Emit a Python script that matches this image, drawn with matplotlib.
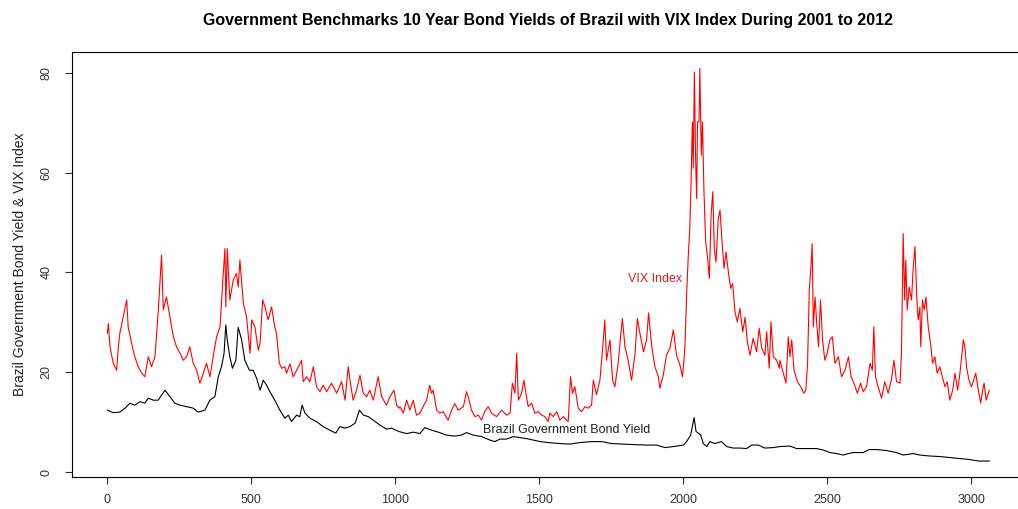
import matplotlib
matplotlib.use("Agg")
import matplotlib.pyplot as plt

plt.rcParams['font.family'] = ['Liberation Sans', 'DejaVu Sans']

vix_idx = [0, 3, 9, 20, 32, 38, 43, 55, 67, 72, 84, 95, 107, 119, 130, 142, 153, 165, 176, 188,
           194, 205, 217, 229, 240, 252, 263, 275, 286, 298, 310, 321, 333, 344, 356, 367, 379, 391, 400, 408,
           411, 416, 425, 437, 448, 454, 460, 472, 483, 493, 495, 501, 512, 524, 530, 539, 547, 558, 570, 581,
           587, 597, 605, 616, 622, 634, 645, 657, 674, 680, 692, 703, 715, 726, 738, 749, 761, 778, 796, 813,
           825, 836, 842, 853, 865, 877, 888, 900, 911, 923, 940, 952, 969, 981, 995, 1004, 1013,
           1016, 1027, 1039, 1050, 1062, 1073, 1085, 1096, 1108, 1119, 1125, 1131, 1143, 1154, 1166, 1183, 1195, 1206, 1218,
           1236, 1247, 1253, 1264, 1276, 1288, 1299, 1310, 1322, 1334, 1351, 1369, 1386, 1398, 1406, 1415, 1421, 1427, 1438,
           1446, 1455, 1461, 1473, 1484, 1496, 1508, 1519, 1530,
           1536, 1548, 1560, 1571, 1583, 1594, 1600, 1608, 1615, 1623, 1635, 1646, 1658, 1669, 1681, 1687, 1698, 1710, 1719,
           1727, 1733, 1745, 1754, 1762, 1773, 1788, 1797, 1808, 1820, 1832, 1840, 1849, 1861, 1872, 1879, 1890, 1901, 1913,
           1918, 1930, 1941, 1953, 1965, 1976, 1988, 1997, 2005, 2011, 2017, 2022, 2026, 2031, 2034, 2038, 2042, 2046, 2049,
           2054, 2057, 2062, 2066, 2071, 2077, 2083, 2090, 2096, 2102, 2107, 2113, 2121, 2127, 2134, 2141, 2148, 2156, 2164,
           2171, 2179, 2187, 2196, 2206, 2214, 2222, 2231, 2242, 2254, 2263, 2272, 2283, 2289, 2298, 2304, 2312, 2324, 2333,
           2335, 2347, 2356, 2364, 2370, 2376, 2384, 2396, 2407, 2418, 2425, 2431, 2437, 2442, 2447, 2451, 2457, 2462, 2469,
           2476, 2483, 2491, 2499, 2509, 2517, 2526, 2538, 2549, 2561, 2573, 2582, 2592, 2604, 2615, 2624, 2636, 2648, 2656,
           2661, 2667, 2676, 2688, 2699, 2711, 2722, 2731, 2740, 2752, 2757, 2763, 2768, 2772, 2777, 2784, 2792, 2798, 2804,
           2810, 2815, 2821, 2824, 2830, 2836, 2842, 2850, 2858, 2865, 2873, 2881, 2890, 2899, 2908, 2916, 2925, 2935, 2943,
           2952, 2960, 2966, 2972, 2977, 2983, 2991, 3000, 3008, 3015, 3024, 3032, 3039, 3044, 3051, 3055, 3062]
vix_val = [27.8, 29.8, 25.1, 21.8, 20.4, 25.1, 27.8, 31.1, 34.5, 29.1, 25.8, 23.1, 21.1, 19.8, 19.1, 23.1, 21.1, 23.1, 31.8, 43.5,
           32.5, 35.1, 31.1, 27.1, 25.1, 23.8, 22.4, 23.1, 25.1, 21.8, 20.4, 17.8, 19.8, 21.8, 19.1, 23.1, 27.1, 29.1, 37.8, 44.8,
           33.1, 44.8, 34.5, 38.5, 39.8, 37.1, 42.5, 33.8, 31.1, 25.1, 23.8, 30.5, 29.1, 24.4, 25.8, 34.5, 33.1, 30.5, 33.1, 29.1,
           27.8, 21.8, 20.8, 21.1, 19.8, 21.7, 19.1, 20.4, 22.4, 18.1, 19.1, 18.1, 21.1, 17.1, 16.1, 17.4, 16.1, 17.8, 15.8, 18.1,
           14.4, 21.1, 18.5, 14.4, 16.4, 19.4, 15.8, 15.1, 16.4, 14.4, 19.1, 15.1, 13.4, 15.1, 16.4, 13.4, 12.8,
           13.1, 11.8, 14.4, 12.4, 14.4, 11.4, 11.8, 13.1, 14.4, 17.4, 15.8, 16.4, 12.4, 11.8, 12.1, 10.4, 12.4, 13.7, 12.4,
           13.1, 16.1, 15.1, 12.4, 11.1, 11.4, 10.4, 12.1, 13.1, 11.8, 11.1, 12.4, 11.4, 11.8, 17.8, 15.8, 23.8, 14.4, 15.8,
           18.4, 15.1, 13.1, 13.8, 11.8, 12.1, 11.4, 11.1, 10.1,
           11.8, 11.1, 12.1, 10.4, 11.1, 10.4, 10.1, 19.1, 15.8, 17.1, 12.8, 12.1, 13.1, 12.8, 13.4, 18.4, 15.5, 18.4, 24.4,
           30.5, 22.4, 26.5, 18.4, 17.1, 21.7, 30.8, 25.1, 22.4, 18.4, 23.8, 30.8, 27.8, 24.1, 26.5, 31.9, 25.1, 21.1, 19.1,
           16.8, 19.4, 23.4, 24.8, 28.5, 23.4, 21.4, 19.1, 24.8, 35.5, 43.5, 48.8, 56.9, 70.2, 60.9, 80.2, 63.5, 54.8, 70.2,
           70.2, 80.9, 63.5, 70.2, 56.9, 46.2, 43.5, 38.8, 51.5, 56.2, 44.8, 42.1, 50.8, 52.5, 46.2, 40.8, 44.1, 40.1, 36.8,
           37.8, 32.1, 30.1, 32.8, 28.1, 31.0, 26.1, 23.4, 26.8, 24.1, 28.8, 24.8, 23.4, 28.1, 20.8, 30.1, 23.1, 22.4, 20.8,
           22.4, 19.8, 17.8, 27.1, 23.1, 26.5, 20.4, 18.1, 17.1, 15.8, 16.4, 21.8, 36.5, 40.5, 45.8, 29.1, 35.1, 30.5, 25.1,
           34.5, 26.5, 22.4, 23.8, 26.5, 27.1, 21.8, 23.1, 19.1, 20.4, 23.1, 19.1, 17.8, 15.8, 17.8, 16.1, 17.1, 21.8, 20.4,
           29.1, 19.1, 17.1, 14.8, 18.1, 15.8, 18.5, 22.4, 18.1, 17.8, 23.8, 47.8, 34.5, 42.5, 32.5, 37.1, 34.5, 41.1, 45.2,
           35.1, 30.5, 33.1, 25.1, 34.5, 32.5, 35.1, 29.1, 25.8, 21.8, 23.1, 19.8, 21.1, 19.1, 17.1, 18.1, 14.4, 16.4, 19.8,
           16.4, 19.8, 23.1, 26.5, 25.1, 21.1, 18.5, 17.1, 18.5, 19.8, 16.4, 13.8, 16.4, 17.8, 14.4, 15.1, 16.4]

# Brazil 10 year government bond yield
bond_idx = [0, 20, 43, 61, 78, 95, 113, 130, 142, 159, 176, 188, 200, 217, 234, 252, 275, 298, 315, 338,
            356, 373, 385, 396, 405, 411, 416, 425, 434, 446, 454, 466, 477, 493,
            506, 518, 530, 541, 553, 564, 581, 599, 616, 628, 639, 657, 668, 676, 686, 703, 726, 749, 772, 793,
            807, 825, 842, 860, 875, 889, 906, 923, 946, 969, 986, 1013,
            1039, 1062, 1085, 1102, 1125, 1154, 1177, 1206, 1229, 1247, 1270, 1299, 1328, 1345, 1363, 1386, 1409, 1432,
            1455, 1478, 1502, 1531, 1571, 1606, 1641, 1681, 1716, 1751, 1786, 1826, 1872, 1907,
            1936, 1965, 2000, 2011, 2025, 2037, 2044, 2052, 2060, 2069, 2081, 2092, 2109, 2132, 2150, 2173, 2196, 2219,
            2237, 2260, 2283, 2312, 2335, 2370, 2393, 2428, 2462, 2486, 2509, 2532, 2555, 2573, 2590, 2624, 2645, 2671,
            2706, 2740, 2763, 2798, 2821, 2856, 2890, 2925, 2960, 2994, 3024, 3062]
bond_val = [12.4, 11.9, 12.0, 12.8, 13.8, 13.4, 14.1, 13.8, 14.8, 14.4, 14.4, 15.4, 16.4, 15.1, 13.8, 13.4, 13.1, 12.8, 12.0, 12.4,
            14.4, 15.1, 19.1, 21.1, 23.8, 29.5, 26.5, 23.1, 20.8, 22.4, 29.0, 26.5, 22.4, 20.4,
            20.4, 18.8, 16.4, 18.4, 17.4, 16.1, 14.4, 12.4, 10.8, 11.4, 10.1, 11.4, 11.1, 13.4, 11.8, 10.8, 10.1, 9.1, 8.4, 7.8,
            9.1, 8.8, 9.1, 9.8, 12.4, 11.4, 11.1, 10.4, 9.4, 8.6, 8.8, 8.1,
            7.7, 8.0, 7.7, 8.9, 8.4, 7.9, 7.4, 7.2, 7.4, 7.9, 7.4, 7.1, 6.4, 6.1, 6.6, 6.6, 7.1, 6.9,
            6.7, 6.4, 6.1, 5.9, 5.7, 5.6, 5.9, 6.1, 6.1, 5.7, 5.6, 5.5, 5.4, 5.4,
            4.9, 5.1, 5.4, 6.1, 7.4, 10.9, 8.1, 7.8, 7.4, 5.7, 5.1, 6.1, 5.7, 6.1, 5.1, 4.8, 4.8, 4.7,
            5.4, 5.4, 4.8, 4.9, 5.1, 5.2, 4.7, 4.7, 4.7, 4.4, 3.9, 3.7, 3.4, 3.7, 3.9, 3.9, 4.5, 4.5,
            4.3, 3.9, 3.4, 3.7, 3.4, 3.2, 3.1, 2.9, 2.7, 2.5, 2.2, 2.2]

fig = plt.figure(figsize=(10.18, 5.09), dpi=100)
ax = fig.add_axes([72 / 1018, 32 / 509, 953 / 1018, 425 / 509])

ax.plot(vix_idx, vix_val, color='red', linewidth=0.8)
ax.plot(bond_idx, bond_val, color='black', linewidth=0.8)

ax.set_xlim(-123, 3186)
ax.set_ylim(-1.0, 84.2)
ax.set_xticks([0, 500, 1000, 1500, 2000, 2500, 3000])
ax.set_yticks([0, 20, 40, 60, 80])
ax.tick_params(axis='both', direction='out', length=5, width=0.8, labelsize=9, colors='#333333')
ax.tick_params(axis='x', pad=7)
ax.tick_params(axis='y', pad=9)
for lab in ax.get_yticklabels():
    lab.set_rotation(90)
    lab.set_va('center')
for s in ax.spines.values():
    s.set_linewidth(0.8)

ax.text(1901, 38.7, 'VIX Index', color='#d62020', fontsize=9, ha='center', va='center')
ax.text(1595, 8.4, 'Brazil Government Bond Yield', color='#222222', fontsize=9, ha='center', va='center')

ax.set_ylabel('Brazil Government Bond Yield & VIX Index', fontsize=10, color='#222222')
ax.yaxis.set_label_coords(-0.047, 0.5)

fig.text(548 / 1018, 1 - 20 / 509, 'Government Benchmarks 10 Year Bond Yields of Brazil with VIX Index During 2001 to 2012',
         ha='center', va='center', fontsize=11.5, fontweight='bold')

fig.savefig('out.png', dpi=100)
